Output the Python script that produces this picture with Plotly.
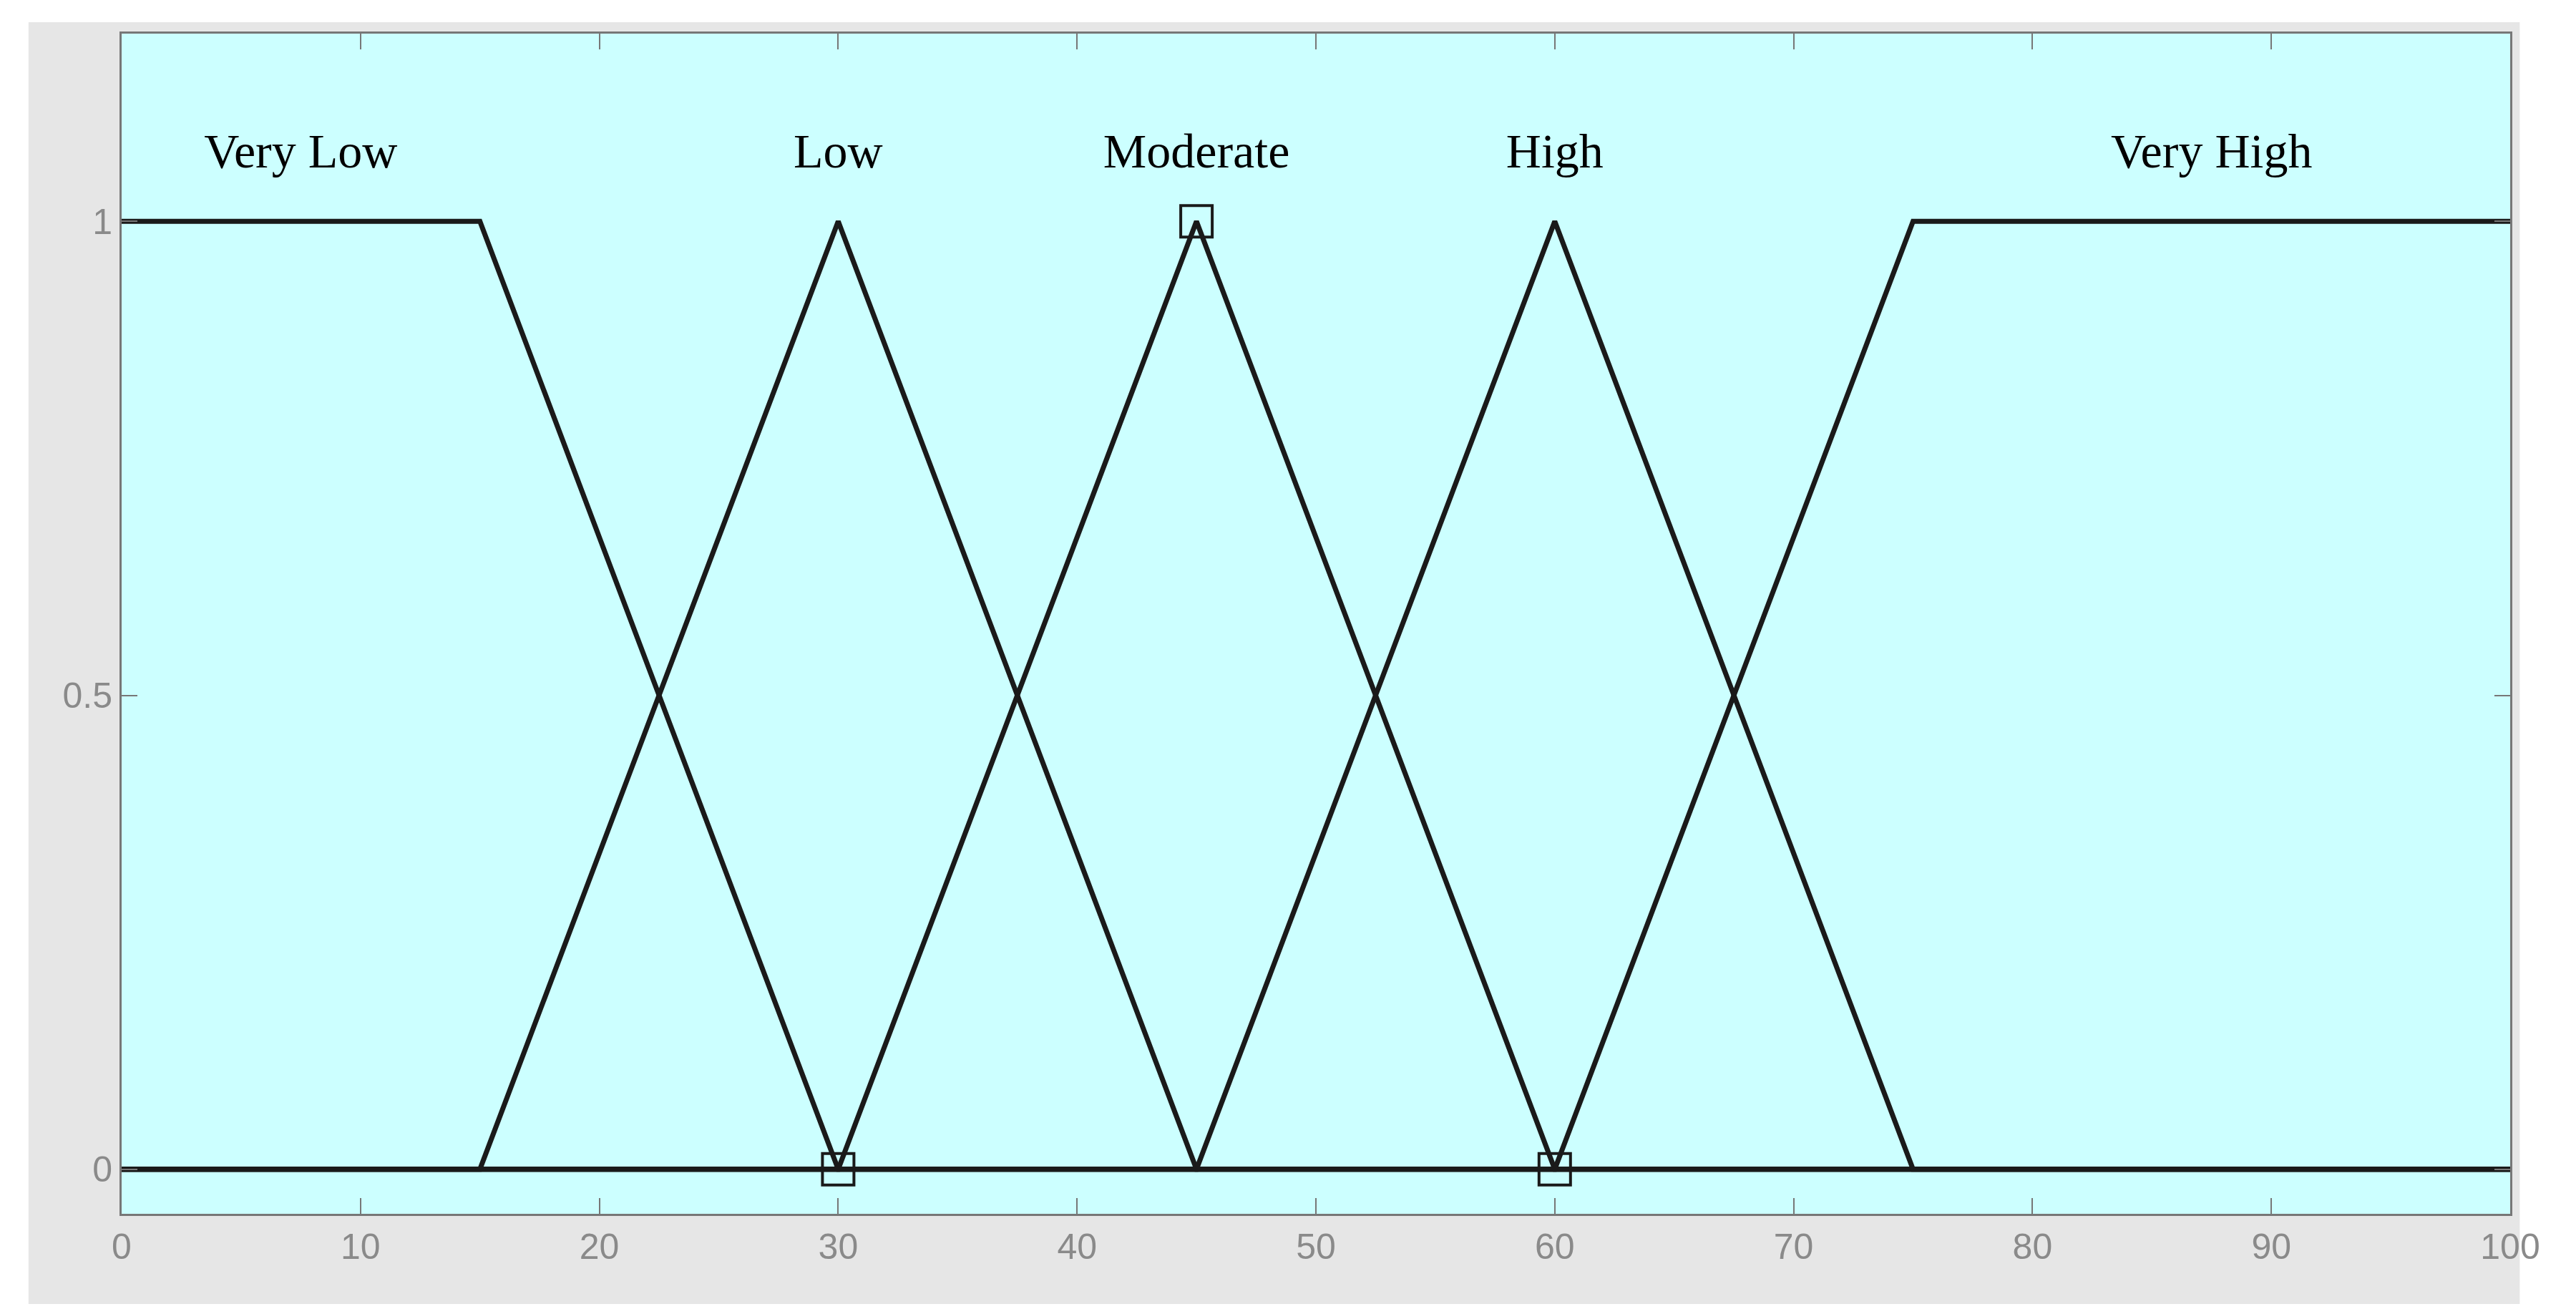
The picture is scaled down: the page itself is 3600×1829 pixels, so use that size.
import plotly.graph_objects as go

labels = ["Very Low", "Low", "Moderate", "High", "Very High"]
label_x = [7.5, 30, 45, 60, 87.5]
label_y = [1.07, 1.07, 1.07, 1.07, 1.07]
mf_x = [
    [0, 15, 30, 100],
    [0, 15, 30, 45, 100],
    [0, 30, 45, 60, 100],
    [0, 45, 60, 75, 100],
    [0, 60, 75, 100],
]
mf_y = [
    [1, 1, 0, 0],
    [0, 0, 1, 0, 0],
    [0, 0, 1, 0, 0],
    [0, 0, 1, 0, 0],
    [0, 0, 1, 1],
]
marker_x = [30, 45, 60]
marker_y = [0, 1, 0]
x_ticks = [0, 10, 20, 30, 40, 50, 60, 70, 80, 90, 100]
y_ticks = [0, 0.5, 1]
y_tick_text = ["0", "0.5", "1"]

fig = go.Figure()
for xs, ys in zip(mf_x, mf_y):
    fig.add_trace(go.Scatter(x=xs, y=ys, mode="lines",
                             line=dict(color="#1a1a1a", width=7), showlegend=False,
                             hoverinfo="skip"))
fig.add_trace(go.Scatter(x=marker_x, y=marker_y, mode="markers",
                         marker=dict(symbol="square-open", size=44, color="#1a1a1a",
                                     line=dict(width=4)), showlegend=False))
fig.add_trace(go.Scatter(x=label_x, y=label_y, mode="text", text=labels,
                         textfont=dict(family="Liberation Serif", size=68, color="black"),
                         textposition="middle center", showlegend=False))

fig.add_shape(type="rect", xref="paper", yref="paper", x0=-0.039, x1=1.004,
              y0=-0.0764, y1=1.0097, fillcolor="#e6e6e6", line=dict(width=0), layer="below")
fig.add_shape(type="rect", xref="paper", yref="paper", x0=0, x1=1,
              y0=0, y1=1, fillcolor="#ccffff", line=dict(width=0), layer="below")

axis_common = dict(showgrid=False, zeroline=False, ticks="inside", ticklen=22,
                   tickwidth=2, tickcolor="#777777", showline=True, linecolor="#777777",
                   linewidth=3, mirror="ticks",
                   tickfont=dict(family="Liberation Sans", size=50, color="#8a8a8a"))
fig.update_xaxes(range=[0, 100], tickvals=x_ticks, **axis_common)
fig.update_yaxes(range=[-0.047, 1.198], tickvals=y_ticks, ticktext=y_tick_text, **axis_common)

fig.update_layout(width=3600, height=1829, autosize=False,
                  margin=dict(l=162, r=100, t=39, b=141),
                  paper_bgcolor="white", plot_bgcolor="#ccffff")
fig.write_html("out.html")
